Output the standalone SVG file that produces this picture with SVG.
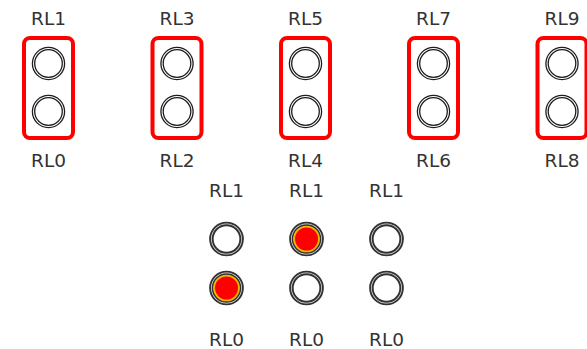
<svg xmlns="http://www.w3.org/2000/svg" width="587" height="349" viewBox="0 0 587 349">
<defs>
<style>
.lbl{font-family:"DejaVu Sans",Verdana,sans-serif;font-size:18.5px;fill:#333;text-anchor:middle}
.frame{fill:none;stroke:#ff0000;stroke-width:4}
.ro{fill:#fff;stroke:#1e1e1e;stroke-width:1.3}
.ri{fill:#fff;stroke:#1e1e1e;stroke-width:1.3}
.bo{fill:#e6e6e6;stroke:#333;stroke-width:1.9}
.bi{fill:#fff;stroke:#333;stroke-width:1.9}
.lit{fill:#ff0000;stroke:#f2b600;stroke-width:1.8}
</style>
<g id="led">
<circle class="ro" r="16.1"/>
<circle class="ri" r="13.8"/>
</g>
<g id="bled">
<circle class="bo" r="16.4"/>
<circle class="bi" r="13.8"/>
</g>
</defs>
<rect width="587" height="349" fill="#fff"/>
<g id="connectors"/>
<g id="pair01">
<text class="lbl" x="48.5" y="25">RL1</text>
<rect class="frame" x="24" y="38" width="49" height="100" rx="6"/>
<use href="#led" x="48.5" y="63.5"/>
<use href="#led" x="48.5" y="111.5"/>
<text class="lbl" x="48.5" y="166.5">RL0</text>
</g>
<g id="pair23">
<text class="lbl" x="177" y="25">RL3</text>
<rect class="frame" x="152.5" y="38" width="49" height="100" rx="6"/>
<use href="#led" x="177" y="63.5"/>
<use href="#led" x="177" y="111.5"/>
<text class="lbl" x="177" y="166.5">RL2</text>
</g>
<g id="pair45">
<text class="lbl" x="305.5" y="25">RL5</text>
<rect class="frame" x="281" y="38" width="49" height="100" rx="6"/>
<use href="#led" x="305.5" y="63.5"/>
<use href="#led" x="305.5" y="111.5"/>
<text class="lbl" x="305.5" y="166.5">RL4</text>
</g>
<g id="pair67">
<text class="lbl" x="433.5" y="25">RL7</text>
<rect class="frame" x="409" y="38" width="49" height="100" rx="6"/>
<use href="#led" x="433.5" y="63.5"/>
<use href="#led" x="433.5" y="111.5"/>
<text class="lbl" x="433.5" y="166.5">RL6</text>
</g>
<g id="pair89">
<text class="lbl" x="562" y="25">RL9</text>
<rect class="frame" x="537.5" y="38" width="49" height="100" rx="6"/>
<use href="#led" x="562" y="63.5"/>
<use href="#led" x="562" y="111.5"/>
<text class="lbl" x="562" y="166.5">RL8</text>
</g>
<g id="state1">
<text class="lbl" x="226.5" y="197">RL1</text>
<use href="#bled" x="226.5" y="239"/>
<use href="#bled" x="226.5" y="288"/>
<circle class="lit" cx="226.5" cy="288" r="12.4"/>
<text class="lbl" x="226.5" y="346">RL0</text>
</g>
<g id="state2">
<text class="lbl" x="306.5" y="197">RL1</text>
<use href="#bled" x="306.5" y="239"/>
<circle class="lit" cx="306.5" cy="239" r="12.4"/>
<use href="#bled" x="306.5" y="288"/>
<text class="lbl" x="306.5" y="346">RL0</text>
</g>
<g id="state3">
<text class="lbl" x="386.5" y="197">RL1</text>
<use href="#bled" x="386.5" y="239"/>
<use href="#bled" x="386.5" y="288"/>
<text class="lbl" x="386.5" y="346">RL0</text>
</g>
</svg>
